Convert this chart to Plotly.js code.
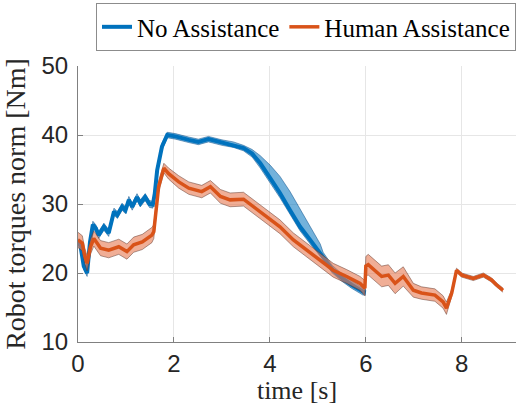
<!DOCTYPE html>
<html>
<head>
<meta charset="utf-8">
<script src="https://cdn.plot.ly/plotly-3.0.1.min.js"></script>
<style>html,body{margin:0;padding:0;background:#fff;}#chart{width:516px;height:405px;}</style>
</head>
<body>
<div id="chart"></div>
<script>
// ---- data ----
const noAssistT = [0.00,0.05,0.12,0.19,0.25,0.31,0.37,0.43,0.54,0.64,0.75,0.82,0.92,0.99,1.06,1.13,1.23,1.30,1.40,1.49,1.56,1.60,1.65,1.75,1.86,2.03,2.31,2.51,2.72,3.00,3.24,3.45,3.63,3.80,4.01,4.21,4.42,4.63,4.84,5.05,5.11,5.30,5.50,5.70,5.94,6.00];
const noAssistMean = [24.5,24.0,21.0,20.0,24.5,27.0,26.5,25.5,26.7,25.8,28.9,28.4,29.6,29.1,30.6,29.6,31.0,30.1,31.0,30.0,29.9,31.5,34.9,38.3,40.0,39.8,39.3,39.0,39.4,38.9,38.6,38.1,37.3,35.9,33.7,31.6,29.1,26.7,24.8,22.9,22.4,20.5,19.3,18.3,17.3,17.2];
const noAssistUpper = [25.0,24.5,21.5,20.5,25.0,27.5,27.0,26.0,27.2,26.3,29.4,28.9,30.1,29.6,31.1,30.1,31.5,30.6,31.5,30.5,30.4,32.0,35.4,38.8,40.4,40.2,39.7,39.4,39.8,39.3,39.0,38.5,37.9,37.0,35.6,34.0,31.8,29.2,26.8,24.2,23.0,21.1,19.9,18.9,17.8,17.6];
const noAssistLower = [24.0,23.5,20.5,19.5,24.0,26.5,26.0,25.0,26.2,25.3,28.4,27.9,29.1,28.6,30.1,29.1,30.5,29.6,30.5,29.5,29.4,31.0,34.4,37.8,39.6,39.4,38.9,38.6,39.0,38.5,38.2,37.7,36.8,35.2,33.0,30.9,28.5,26.1,24.2,22.4,22.0,20.0,18.8,17.8,16.8,16.8];

const humanAssistT = [0.00,0.09,0.14,0.19,0.26,0.33,0.40,0.47,0.64,0.85,1.02,1.16,1.34,1.54,1.58,1.61,1.68,1.79,1.89,2.10,2.31,2.58,2.76,2.97,3.17,3.45,3.66,3.94,4.21,4.49,4.77,5.05,5.32,5.60,5.88,5.98,6.00,6.05,6.15,6.33,6.47,6.61,6.78,6.99,7.16,7.44,7.61,7.68,7.79,7.89,8.00,8.24,8.45,8.62,8.72,8.86];
const humanAssistMean = [24.8,24.3,22.5,21.4,23.8,25.0,24.3,23.6,23.3,23.8,23.1,24.1,24.5,25.5,26.0,28.2,32.5,35.2,34.4,33.2,32.3,31.8,32.5,31.1,30.6,30.7,29.6,28.2,26.7,24.8,23.3,21.9,20.4,19.5,18.5,17.8,21.0,21.2,20.6,19.5,19.7,18.5,19.5,17.5,17.1,16.8,15.8,14.9,17.1,20.4,19.7,19.2,19.7,19.0,18.3,17.5];
const humanAssistUpper = [25.9,25.4,23.6,22.5,24.9,26.1,25.4,24.7,24.4,24.9,24.2,25.2,25.6,26.6,27.0,29.1,33.3,35.9,35.2,34.1,33.2,32.7,33.4,32.1,31.6,31.7,30.6,29.2,27.7,25.8,24.3,22.9,21.4,20.5,19.5,18.9,22.4,22.7,22.1,21.0,21.2,20.0,20.9,18.5,18.0,17.7,16.7,15.8,17.6,20.7,20.0,19.5,20.0,19.3,18.6,17.8];
const humanAssistLower = [23.7,23.2,21.4,20.3,22.7,23.9,23.2,22.5,22.2,22.7,22.0,23.0,23.4,24.4,25.0,27.3,31.7,34.5,33.6,32.3,31.4,30.9,31.6,30.1,29.6,29.7,28.6,27.2,25.7,23.8,22.3,20.9,19.4,18.5,17.5,16.7,19.6,19.7,19.1,18.0,18.2,17.0,18.1,16.5,16.2,15.9,14.9,14.0,16.6,20.1,19.4,18.9,19.4,18.7,18.0,17.2];

const seriesNames = ['No Assistance','Human Assistance'];
const xTicks = [0,2,4,6,8];
const yTicks = [10,20,30,40,50];

// ---- styles ----
const blue = '#0072BD', orange = '#D95319';
const serif = '"Liberation Serif", "Times New Roman", serif';
const sans = '"Liberation Sans", Arial, sans-serif';

function band(t, up, lo, fill, edge) {
  return [
    {x: t, y: up, mode: 'lines', line: {color: edge, width: 0.8}, showlegend: false, hoverinfo: 'skip'},
    {x: t, y: lo, mode: 'lines', line: {color: edge, width: 0.8}, fill: 'tonexty', fillcolor: fill, showlegend: false, hoverinfo: 'skip'}
  ];
}

const traces = [].concat(
  band(noAssistT, noAssistUpper, noAssistLower, 'rgba(0,114,189,0.55)', 'rgba(0,70,130,0.6)'),
  [{x: noAssistT, y: noAssistMean, mode: 'lines', name: seriesNames[0], line: {color: blue, width: 4}}],
  band(humanAssistT, humanAssistUpper, humanAssistLower, 'rgba(230,120,80,0.6)', 'rgba(90,50,40,0.6)'),
  [{x: humanAssistT, y: humanAssistMean, mode: 'lines', name: seriesNames[1], line: {color: orange, width: 3.5}}]
);

const layout = {
  width: 516, height: 405,
  margin: {l: 78, r: 0, t: 66, b: 63},
  paper_bgcolor: '#fff', plot_bgcolor: '#fff',
  showlegend: true,
  legend: {
    orientation: 'h', traceorder: 'normal',
    x: 1, xanchor: 'right', y: 1.228, yanchor: 'top',
    bgcolor: '#fff', bordercolor: '#8c8c8c', borderwidth: 1,
    font: {family: serif, size: 25, color: '#000'},
    itemwidth: 30, tracegroupgap: 0
  },
  xaxis: {
    range: [0, 9.13], tickvals: xTicks, ticktext: xTicks.map(String),
    showgrid: true, gridcolor: '#e6e6e6', gridwidth: 1,
    zeroline: false, showline: true, linecolor: '#808080', linewidth: 1,
    ticks: 'inside', ticklen: 5, tickcolor: '#808080',
    tickfont: {family: sans, size: 24, color: '#262626'},
    title: {text: 'time [s]', font: {family: serif, size: 26, color: '#262626'}}
  },
  yaxis: {
    range: [10, 50], tickvals: yTicks, ticktext: yTicks.map(String),
    showgrid: true, gridcolor: '#e6e6e6', gridwidth: 1,
    zeroline: false, showline: true, linecolor: '#808080', linewidth: 1,
    ticks: 'inside', ticklen: 5, tickcolor: '#808080',
    tickfont: {family: sans, size: 24, color: '#262626'},
    ticklabelstandoff: 4,
    title: {text: 'Robot torques norm [Nm]', font: {family: serif, size: 28, color: '#262626'}}
  }
};

Plotly.newPlot('chart', traces, layout, {displayModeBar: false, staticPlot: true});
</script>
</body>
</html>
